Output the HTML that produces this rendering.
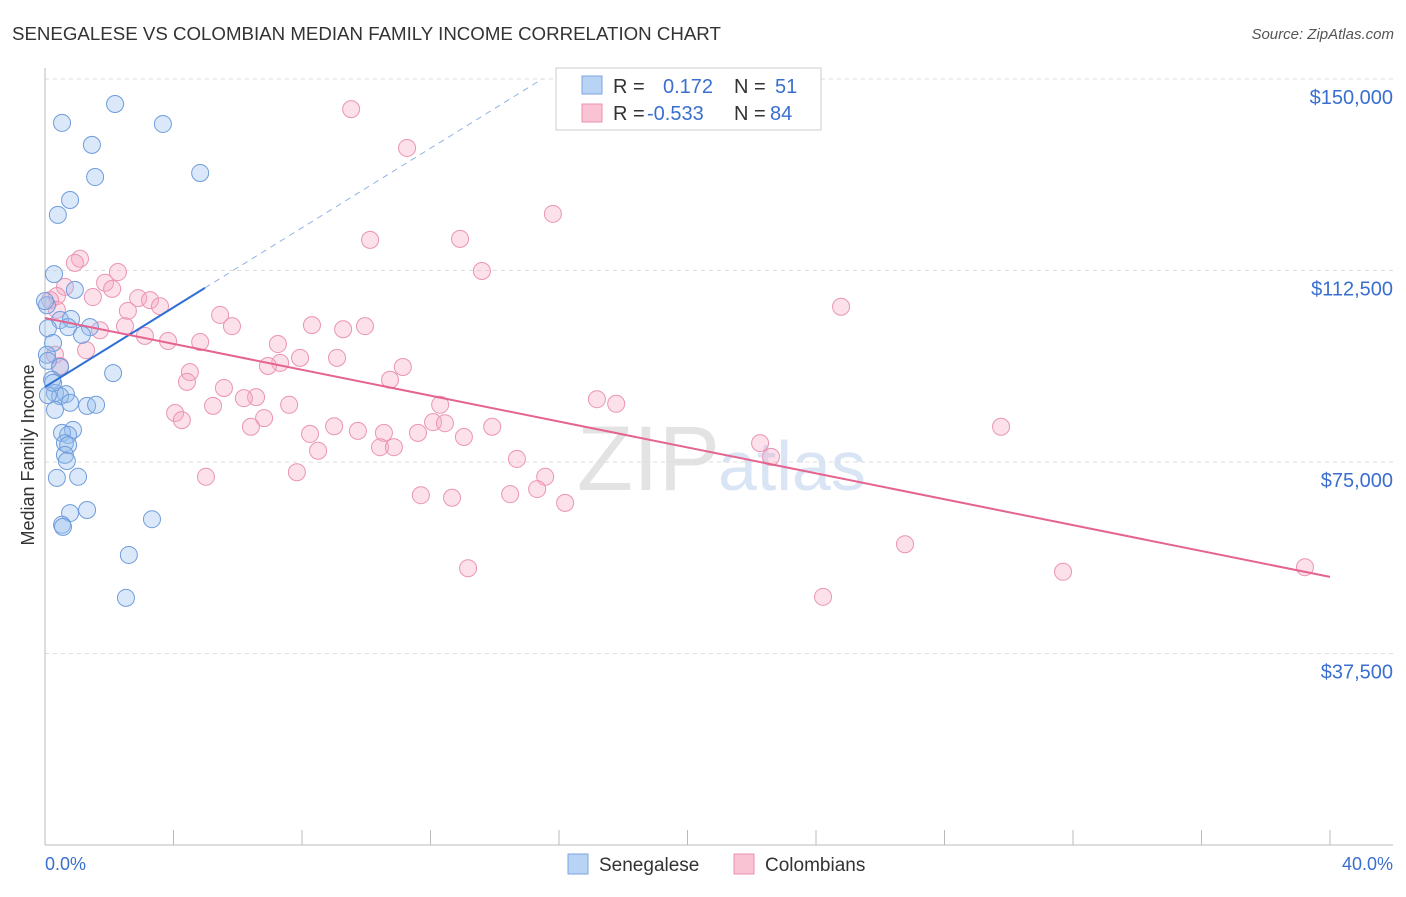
<!DOCTYPE html>
<html><head><meta charset="utf-8"><style>
body{margin:0;background:#fff;font-family:"Liberation Sans",sans-serif;}
svg text{font-family:"Liberation Sans",sans-serif;}
</style></head><body>
<svg id="chart" width="1406" height="892">
<text x="12" y="40" font-size="18.7" fill="#333">SENEGALESE VS COLOMBIAN MEDIAN FAMILY INCOME CORRELATION CHART</text>
<text x="1394" y="39" font-size="15" fill="#555" font-style="italic" text-anchor="end">Source: ZipAtlas.com</text>
<text x="720" y="490" font-size="92" fill="#d8d8d8" text-anchor="end" font-family="Liberation Serif" opacity="0.7">ZIP</text>
<text x="718" y="490" font-size="70" fill="#c9daf2" opacity="0.7">atlas</text>
<g id="grid"></g>
<g id="axes"></g>
<g id="points"></g>
<g id="trends"></g>
<text transform="translate(34,455) rotate(-90)" font-size="18" fill="#333" text-anchor="middle">Median Family Income</text>
<text x="45" y="870" font-size="18" fill="#3a6fd0">0.0%</text>
<text x="1393" y="870" font-size="18" fill="#3a6fd0" text-anchor="end">40.0%</text>
<g>
<rect x="556" y="68" width="265" height="62" fill="#fff" stroke="#ccc"/>
<rect x="582" y="76" width="20" height="18" fill="#b9d3f5" stroke="#7aa6e0"/>
<rect x="582" y="104" width="20" height="18" fill="#f9c3d4" stroke="#eb91b0"/>
<text x="613" y="93" font-size="20" fill="#333">R =</text><text x="663" y="93" font-size="20" fill="#3a6fd0">0.172</text>
<text x="734" y="93" font-size="20" fill="#333">N =</text><text x="775" y="93" font-size="20" fill="#3a6fd0">51</text>
<text x="613" y="120" font-size="20" fill="#333">R =</text><text x="647" y="120" font-size="20" fill="#3a6fd0">-0.533</text>
<text x="734" y="120" font-size="20" fill="#333">N =</text><text x="770" y="120" font-size="20" fill="#3a6fd0">84</text>
</g>
<g>
<rect x="568" y="854" width="20" height="20" fill="#b9d3f5" stroke="#7aa6e0"/>
<text x="599" y="871" font-size="19" fill="#333">Senegalese</text>
<rect x="734" y="854" width="20" height="20" fill="#f9c3d4" stroke="#eb91b0"/>
<text x="765" y="871" font-size="19" fill="#333">Colombians</text>
</g>
</svg>
<script>
const yTicks=[37500,75000,112500,150000];
const yTickLabels=["$37,500","$75,000","$112,500","$150,000"];
const xTicks=[0,4,8,12,16,20,24,28,32,36,40];
const senX=[2.18,0.53,3.67,1.46,1.56,4.83,0.78,0.40,0.28,0.93,0.06,0.47,0.81,0.72,1.40,1.15,0.09,0.25,0.06,0.09,0.47,2.12,0.22,0.31,0.65,0.47,0.78,1.31,1.59,0.31,0.87,0.53,0.72,0.62,0.72,0.62,0.68,0.37,1.03,1.31,0.78,0.53,0.56,3.33,2.61,2.52,0.09,0.25,0.0];
const senY=[145.1,141.4,141.2,137.1,130.8,131.6,126.3,123.4,111.8,108.7,105.7,102.8,103.0,101.4,101.4,99.9,101.2,98.3,96.0,94.8,93.6,92.4,91.1,88.5,88.3,87.9,86.6,86.0,86.2,85.2,81.3,80.7,80.3,78.7,78.3,76.4,75.2,71.9,72.1,65.6,65.0,62.7,62.3,63.8,56.8,48.4,88.1,90.5,106.5];
const colX=[9.53,11.27,15.81,12.92,10.12,13.60,1.09,0.93,2.27,1.87,2.09,0.62,0.37,1.49,0.16,2.90,3.27,3.58,2.58,2.49,1.71,3.11,3.83,5.45,5.82,4.83,7.25,8.31,9.28,9.96,7.32,6.94,7.94,9.09,11.14,4.51,4.42,5.57,10.74,6.57,6.19,5.23,7.60,4.05,4.26,6.82,6.41,8.25,8.50,9.00,9.74,10.55,10.43,10.86,11.61,12.08,12.45,12.30,13.04,13.92,14.69,15.57,15.32,14.48,12.67,11.70,16.19,17.18,17.78,5.01,7.84,13.17,22.26,22.60,24.78,29.76,26.77,24.22,31.69,39.22,1.28,0.31,0.47,0.37];
const colY=[144.1,136.5,123.6,118.7,118.5,112.4,114.8,114.0,112.2,110.1,108.9,109.3,107.5,107.3,106.7,107.1,106.7,105.5,104.6,101.6,100.8,99.7,98.7,103.8,101.6,98.5,98.1,101.8,101.0,101.6,94.4,93.8,95.4,95.4,93.6,92.6,90.7,89.5,91.1,87.7,87.5,86.0,86.2,84.6,83.2,83.6,81.9,80.5,77.2,82.0,81.1,80.7,77.9,77.9,80.7,82.8,82.6,86.2,79.9,81.9,75.6,72.1,69.7,68.7,68.0,68.5,67.0,87.3,86.4,72.1,73.0,54.2,78.7,76.0,105.4,81.9,58.9,48.6,53.5,54.4,96.9,96.0,93.8,104.8];
const senTrendX=[0,4.98];const senTrendY=[89.7,109.1];
const colTrendX=[0,40];const colTrendY=[103.2,52.5];
const NS="http://www.w3.org/2000/svg";
const xs=v=>45+v/40*1285;
const ys=v=>845-v/150000*766;
function mk(tag,attrs,parent){const e=document.createElementNS(NS,tag);for(const k in attrs)e.setAttribute(k,attrs[k]);document.getElementById(parent).appendChild(e);return e;}
yTicks.forEach((t,i)=>{
 const l=mk('line',{x1:45,x2:1393,y1:ys(t),y2:ys(t),stroke:'#ddd','stroke-dasharray':'4,4'},'grid');
 
 
 const tx=mk('text',{x:1393,y:ys(t)+25,'font-size':20,fill:'#3a6fd0','text-anchor':'end'},'grid');
 tx.textContent=yTickLabels[i];
 
 
});
const ax=mk('line',{x1:45,x2:1393,y1:845,y2:845,stroke:'#bbb'},'axes');


const ay=mk('line',{x1:45,x2:45,y1:68,y2:845,stroke:'#bbb'},'axes');


xTicks.forEach(t=>{const l=mk('line',{x1:xs(t),x2:xs(t),y1:830,y2:845,stroke:'#bbb'},'axes');
 
 });
colX.forEach((x,i)=>{const c=mk('circle',{cx:xs(x),cy:ys(colY[i]*1000),r:8.5,fill:'rgba(246,170,196,0.35)',stroke:'#eb94b3','stroke-width':1},'points');
 
 });
senX.forEach((x,i)=>{const c=mk('circle',{cx:xs(x),cy:ys(senY[i]*1000),r:8.5,fill:'rgba(150,188,238,0.35)',stroke:'#6f9cdc','stroke-width':1},'points');
 
 });
const slope=(senTrendY[1]-senTrendY[0])/(senTrendX[1]-senTrendX[0]);
const xEnd=(150-senTrendY[0])/slope;
const d=mk('line',{x1:xs(senTrendX[1]),y1:ys(senTrendY[1]*1000),x2:xs(xEnd),y2:ys(150000),stroke:'#8fb2e6','stroke-dasharray':'6,5','stroke-width':1},'trends');


const bt=mk('line',{x1:xs(senTrendX[0]),y1:ys(senTrendY[0]*1000),x2:xs(senTrendX[1]),y2:ys(senTrendY[1]*1000),stroke:'#2f6fd6','stroke-width':2},'trends');


const pt=mk('line',{x1:xs(colTrendX[0]),y1:ys(colTrendY[0]*1000),x2:xs(colTrendX[1]),y2:ys(colTrendY[1]*1000),stroke:'#e4648f','stroke-width':2},'trends');


</script>
</body></html>
